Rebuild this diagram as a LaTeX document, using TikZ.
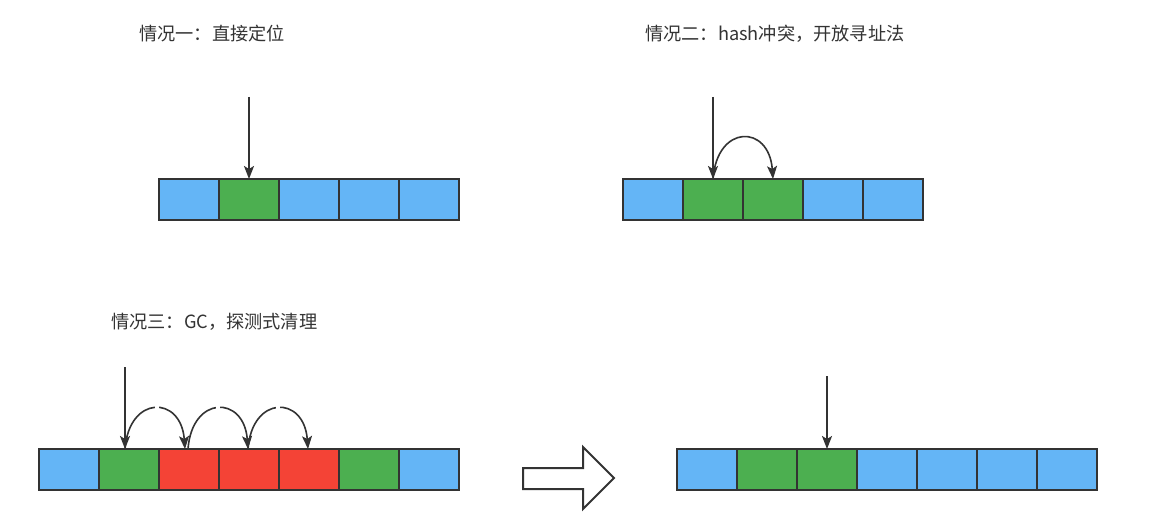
\documentclass[tikz,border=0pt]{standalone}
\usepackage{fontspec}
\newfontfamily\cjk{Noto Sans CJK SC}
\usetikzlibrary{arrows.meta,calc}
\definecolor{cblue}{HTML}{64B5F6}
\definecolor{cgreen}{HTML}{4CAF50}
\definecolor{cred}{HTML}{F44336}
\definecolor{cline}{HTML}{333333}
\definecolor{ctext}{HTML}{333333}
\tikzset{
  cell/.style={draw=cline, line width=2pt, minimum width=60pt, minimum height=41pt, inner sep=0pt, outer sep=0pt},
  bluecell/.style={cell, fill=cblue},
  greencell/.style={cell, fill=cgreen},
  redcell/.style={cell, fill=cred},
  ptr/.style={draw=cline, line width=1.6pt, -{Stealth[length=13pt,width=10pt,inset=3pt]}},
  gapmark/.style={fill=white},
  title/.style={font=\cjk\fontsize{18.2}{21}\selectfont, text=ctext, anchor=west, inner sep=0pt},
  bigarrow/.style={draw=cline, line width=2pt, fill=white, line join=miter}
}
\begin{document}
\begin{tikzpicture}[x=1pt,y=-1pt]
\useasboundingbox (0,0) rectangle (1155,526);
\fill[white] (0,0) rectangle (1155,526);

% titles
\node[title] (t1) at (139,34) {情况一：直接定位};
\node[title] (t2) at (645,34) {情况二：hash冲突，开放寻址法};
\node[title] (t3) at (111,322) {情况三：GC，探测式清理};

% case 1
\node[bluecell]  (a1) at (189,199.5) {};
\node[greencell] (a2) at (249,199.5) {};
\node[bluecell]  (a3) at (309,199.5) {};
\node[bluecell]  (a4) at (369,199.5) {};
\node[bluecell]  (a5) at (429,199.5) {};
\coordinate (s1) at (249,97);
\draw[ptr] (s1) -- (a2.north);

% case 2
\node[bluecell]  (b1) at (653,199.5) {};
\node[greencell] (b2) at (713,199.5) {};
\node[greencell] (b3) at (773,199.5) {};
\node[bluecell]  (b4) at (833,199.5) {};
\node[bluecell]  (b5) at (893,199.5) {};
\coordinate (s2) at (713,97);
\draw[ptr] (s2) -- (b2.north);
\draw[ptr] (b2.north) .. controls ($(b2.north)+(4,-55)$) and ($(b3.north)+(-4,-55)$) .. (b3.north);

% case 3
\node[bluecell]  (c1) at (69,469.5) {};
\node[greencell] (c2) at (129,469.5) {};
\node[redcell]   (c3) at (189,469.5) {};
\node[redcell]   (c4) at (249,469.5) {};
\node[redcell]   (c5) at (309,469.5) {};
\node[greencell] (c6) at (369,469.5) {};
\node[bluecell]  (c7) at (429,469.5) {};
\coordinate (s3) at (125,367);
\coordinate (p1) at ($(c2.north)+(-4,0)$);
\coordinate (p2) at ($(c3.north)+(-4,0)$);
\coordinate (p3) at ($(c3.north)+(-1,0)$);
\coordinate (p4) at ($(c4.north)+(-1,0)$);
\coordinate (p5) at ($(c5.north)+(-1,0)$);
\draw[ptr] (s3) -- (p1);
\draw[ptr] (p1) .. controls ($(p1)+(4,-54)$) and ($(p2)+(-4,-54)$) .. (p2);
\draw[ptr] (p3) .. controls ($(p3)+(4,-54)$) and ($(p4)+(-4,-54)$) .. (p4);
\draw[ptr] (p4) .. controls ($(p4)+(4,-54)$) and ($(p5)+(-4,-54)$) .. (p5);
\fill[gapmark] (155,405) rectangle (159,412);
\fill[gapmark] (216,405) rectangle (220,412);
\fill[gapmark] (276,405) rectangle (280,412);

% transition arrow
\draw[bigarrow] (523,468) -- (583,468) -- (583,447) -- (614,478) -- (583,509) -- (583,489) -- (523,489) -- cycle;

% result
\node[bluecell]  (d1) at (707,469.5) {};
\node[greencell] (d2) at (767,469.5) {};
\node[greencell] (d3) at (827,469.5) {};
\node[bluecell]  (d4) at (887,469.5) {};
\node[bluecell]  (d5) at (947,469.5) {};
\node[bluecell]  (d6) at (1007,469.5) {};
\node[bluecell]  (d7) at (1067,469.5) {};
\coordinate (s4) at (827,376);
\draw[ptr] (s4) -- (d3.north);
\end{tikzpicture}
\end{document}
